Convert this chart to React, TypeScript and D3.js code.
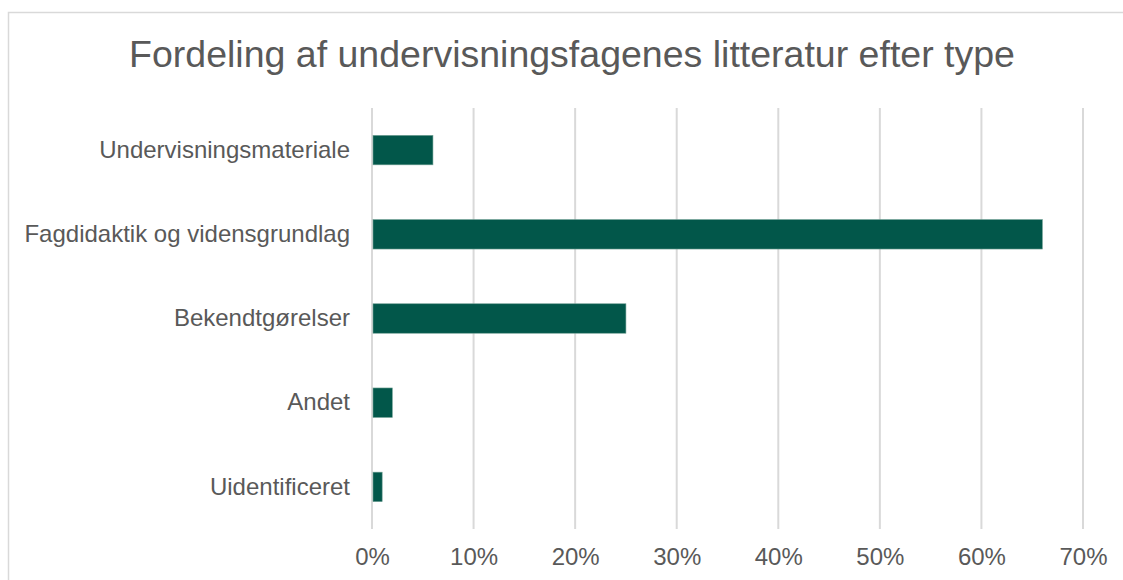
import React, {useEffect, useRef} from 'react';
import * as d3 from 'd3';

const categories = ['Undervisningsmateriale', 'Fagdidaktik og vidensgrundlag', 'Bekendtgørelser', 'Andet', 'Uidentificeret'];
const values = [6, 66, 25, 2, 1];
const ticks = [0, 10, 20, 30, 40, 50, 60, 70];
const title = 'Fordeling af undervisningsfagenes litteratur efter type';

export default function App(){
    const svgRef = useRef<SVGSVGElement>(null);
    useEffect(()=>{
        const svg = d3.select(svgRef.current)
        svg.selectAll('*').remove()

        const width = 1123, height = 580
        const margin = {t:108, r:40, l:372, b:51}
        const gw = 1083 - margin.l
        const gh = height - margin.t - margin.b

        const font = 'Liberation Sans, Arial, sans-serif'

        // chart frame: only top and left edges show, rest is cut off by the page
        svg.append('path')
        .attr('d',`M8.5,${height} V12.5 H${width}`)
        .attr('fill','none').attr('stroke','#d9d9d9').attr('stroke-width',1.5)

        svg.append('text')
        .attr('x',572).attr('y',67)
        .attr('text-anchor','middle')
        .attr('font-family',font).attr('font-size',37.5)
        .attr('fill','#595959')
        .text(title)

        const g = svg.append('g').attr('transform',`translate(${margin.l},${margin.t})`)

        const x = d3.scaleLinear().domain([0,70]).range([0,gw])
        const y = d3.scaleBand().domain(categories).range([0,gh]).paddingInner(0.65).paddingOuter(0.325)

        // gridlines
        g.selectAll('line.grid').data(ticks).enter().append('line')
        .attr('class','grid')
        .attr('x1',d=>x(d)).attr('x2',d=>x(d))
        .attr('y1',0).attr('y2',gh)
        .attr('stroke','#d9d9d9').attr('stroke-width',2)

        g.selectAll('rect.bar').data(values).enter().append('rect')
        .attr('class','bar')
        .attr('x',x(0)+1)
        .attr('y',(d,i)=>y(categories[i]) as number)
        .attr('width',d=>x(d)-x(0)-1)
        .attr('height',y.bandwidth())
        .attr('fill','#02574a')
        .attr('stroke','#6f9f93').attr('stroke-width',0.6)

        // x axis labels
        const xAxis = d3.axisBottom(x).tickValues(ticks).tickFormat(d=>`${d}%`).tickSize(0).tickPadding(19)
        const xg = g.append('g').attr('transform',`translate(0,${gh})`).call(xAxis)
        xg.select('.domain').remove()
        xg.selectAll('text').attr('font-family',font).attr('font-size',24).attr('fill','#595959')

        // y axis labels
        const yAxis = d3.axisLeft(y).tickSize(0).tickPadding(22)
        const yg = g.append('g').call(yAxis)
        yg.select('.domain').remove()
        yg.selectAll('text').attr('font-family',font).attr('font-size',24).attr('fill','#595959')
    },[])

    return (
        <svg ref={svgRef} width="1123" height="580"
          style={{position:'absolute',left:0,top:0,display:'block'}}/>
    )
}
